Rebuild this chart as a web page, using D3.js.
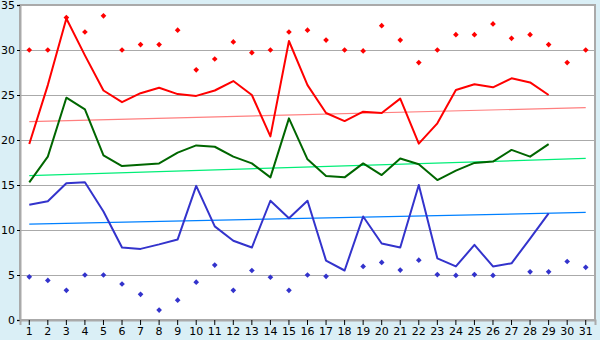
<!DOCTYPE html>
<html>
<head>
<meta charset="utf-8">
<script src="https://cdn.jsdelivr.net/npm/d3@7"></script>
<style>
    html, body { margin: 0; padding: 0; background: #daeff6; }
    svg { display: block; }
    .axis text { font-family: "DejaVu Sans", Verdana, sans-serif; font-size: 11px; fill: #000; }
</style>
</head>
<body>
<div id="chart"></div>
<script>
// Dias do mês
const days = d3.range(1, 32);

// Máximas (pontos vermelhos)
const maxPoints = [30, 30, 33.6, 32, 33.8, 30, 30.6, 30.6, 32.2, 27.8,
    29, 30.9, 29.7, 30, 32, 32.2, 31.1, 30, 29.9, 32.7,
    31.1, 28.6, 30, 31.7, 31.7, 32.9, 31.3, 31.7, 30.6, 28.6, 30];

// Mínimas (pontos azuis) - null = sem dado
const minPoints = [4.8, 4.4, 3.3, 5, 5, 4, 2.85, 1.1, 2.2, 4.2,
    6.1, 3.3, 5.5, 4.75, 3.3, 5, 4.85, null, 5.95, 6.4,
    5.55, 6.65, 5.05, 4.95, 5.05, 4.95, null, 5.35, 5.35, 6.5, 5.85];

// Linhas (média das máximas, média, média das mínimas)
const highLine = [19.55, 26.1, 33.5, 29.4, 25.5, 24.2, 25.2, 25.8, 25.1, 24.9,
    25.5, 26.55, 25, 20.4, 31, 26.1, 23, 22.1, 23.15, 23,
    24.6, 19.6, 21.85, 25.55, 26.2, 25.85, 26.85, 26.4, 25];
const meanLine = [15.3, 18.15, 24.7, 23.4, 18.3, 17.1, 17.25, 17.4, 18.6, 19.4,
    19.25, 18.15, 17.4, 15.85, 22.4, 17.85, 16, 15.85, 17.4, 16.1,
    17.95, 17.3, 15.55, 16.6, 17.45, 17.6, 18.9, 18.15, 19.55];
const lowLine = [12.8, 13.2, 15.2, 15.3, 12.05, 8.05, 7.9, 8.4, 8.95, 14.9,
    10.4, 8.8, 8.05, 13.25, 11.3, 13.25, 6.6, 5.5, 11.5, 8.5,
    8.05, 15, 6.85, 5.95, 8.35, 5.95, 6.3, 9.05, 11.85];

// Tendências (valor no dia 1 e no dia 31)
const highTrend = [22.05, 23.6];
const meanTrend = [16.05, 17.95];
const lowTrend = [10.65, 11.95];

const yTicks = [0, 5, 10, 15, 20, 25, 30, 35];

const W = 600, H = 340;
const margin = { top: 5, right: 5, bottom: 20, left: 20 };
const width = W - margin.left - margin.right;
const height = H - margin.top - margin.bottom;

const svg = d3.select("#chart")
    .append("svg")
    .attr("width", W)
    .attr("height", H);

const g = svg.append("g")
    .attr("transform", `translate(${margin.left},${margin.top})`);

// Escalas
const x = d3.scaleBand()
    .domain(days)
    .range([0, width]);

const y = d3.scaleLinear()
    .domain([0, 35])
    .range([height, 0]);

const cx = d => x(d) + x.bandwidth() / 2;

// Fundo da área
g.append("rect")
    .attr("width", width)
    .attr("height", height)
    .attr("fill", "#fff")
    .attr("stroke", "#aaa")
    .attr("stroke-width", 2);

// Grid
g.selectAll(".grid")
    .data(yTicks.filter(t => t > 0))
    .enter()
    .append("line")
    .attr("x1", 0)
    .attr("x2", width)
    .attr("y1", d => Math.round(y(d)) + 0.5)
    .attr("y2", d => Math.round(y(d)) + 0.5)
    .attr("stroke", "#aaa");

// Tendências
function trend(vals, color) {
    g.append("line")
        .attr("x1", cx(1))
        .attr("x2", cx(31))
        .attr("y1", y(vals[0]))
        .attr("y2", y(vals[1]))
        .attr("stroke", color)
        .attr("stroke-width", 1.2);
}
trend(highTrend, "#ff7f7f");
trend(meanTrend, "#00ee77");
trend(lowTrend, "#0080ff");

// Linhas
function series(vals, color) {
    const line = d3.line()
        .x((d, i) => cx(days[i]))
        .y(d => y(d));
    g.append("path")
        .datum(vals)
        .attr("d", line)
        .attr("fill", "none")
        .attr("stroke", color)
        .attr("stroke-width", 2)
        .attr("stroke-linejoin", "round");
}
series(highLine, "#ff0000");
series(meanLine, "#006600");
series(lowLine, "#3333cc");

// Pontos
function points(vals, color) {
    const sym = d3.symbol().type(d3.symbolSquare).size(16);
    g.selectAll(null)
        .data(vals.map((v, i) => ({ day: days[i], v })).filter(d => d.v != null))
        .enter()
        .append("path")
        .attr("d", sym)
        .attr("transform", d => `translate(${cx(d.day)},${y(d.v)}) rotate(45)`)
        .attr("fill", color);
}
points(maxPoints, "#ff0000");
points(minPoints, "#3333cc");

// Eixos
const yAxis = g.append("g")
    .attr("class", "axis")
    .call(d3.axisLeft(y).tickValues(yTicks).tickSize(3).tickPadding(2));
yAxis.select(".domain").attr("stroke", "#aaa").attr("stroke-width", 2);

const xAxis = g.append("g")
    .attr("class", "axis")
    .attr("transform", `translate(0,${height})`)
    .call(d3.axisBottom(x).tickSize(5).tickPadding(2));
xAxis.select(".domain").attr("stroke", "#aaa").attr("stroke-width", 2);
</script>
</body>
</html>
